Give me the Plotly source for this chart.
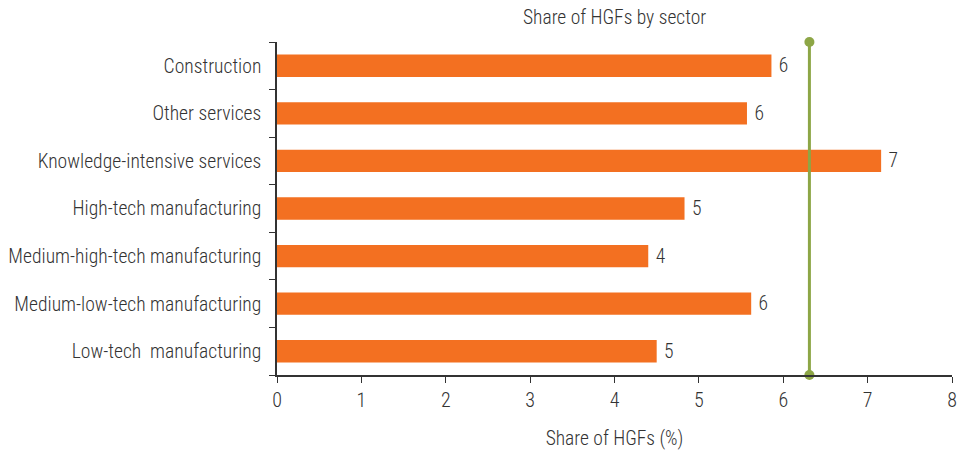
import plotly.graph_objects as go

categories = ["Construction", "Other services", "Knowledge-intensive services",
              "High-tech manufacturing", "Medium-high-tech manufacturing",
              "Medium-low-tech manufacturing", "Low-tech  manufacturing"]
values = [5.86, 5.57, 7.16, 4.83, 4.40, 5.62, 4.50]
labels = ["6", "6", "7", "5", "4", "6", "5"]
average = 6.31
x_ticks = [0, 1, 2, 3, 4, 5, 6, 7, 8]

FONT = "Roboto Condensed, Arial Narrow, sans-serif"
TXT = "#333333"

fig = go.Figure()
fig.add_trace(go.Bar(
    y=categories, x=values, orientation="h",
    marker=dict(color="#F37021", line=dict(width=0)),
    text=labels, textposition="outside", texttemplate="\u00a0%{text}",
    textfont=dict(size=21, color=TXT, family=FONT, weight=300),
    width=0.47, cliponaxis=False, showlegend=False,
))
fig.add_trace(go.Scatter(
    x=[average, average], y=[0, 1], yaxis="y2",
    mode="lines+markers",
    line=dict(color="#8DA646", width=3),
    marker=dict(color="#8DA646", size=10),
    cliponaxis=False, showlegend=False,
))

fig.update_layout(
    width=961, height=454,
    margin=dict(l=277, r=9, t=42, b=79),
    paper_bgcolor="white", plot_bgcolor="white",
    font=dict(family=FONT, color=TXT, size=19, weight=300),
    title=dict(text="Share of HGFs by sector", x=0.6395, xanchor="center",
               y=0.962, yanchor="middle",
               font=dict(size=19.5, color=TXT, family=FONT, weight=300)),
    xaxis=dict(range=[0, 8], tickvals=x_ticks, showgrid=False, zeroline=False,
               showline=True, linecolor="#333333", linewidth=1.5,
               ticks="outside", ticklen=6, tickcolor="#333333",
               tickfont=dict(size=20, color=TXT, weight=300), ticklabeloverflow="allow",
               automargin=False,
               title=dict(text="Share of HGFs (%)",
                          font=dict(size=19.5, color=TXT, weight=300), standoff=21)),
    yaxis=dict(categoryorder="array", categoryarray=categories[::-1],
               showgrid=False, zeroline=False, showline=True,
               linecolor="#333333", linewidth=1.5, automargin=False,
               ticks="outside", ticklen=6, tickcolor="#333333", tickson="boundaries",
               tickfont=dict(size=19.6, color=TXT, weight=300), ticklabelstandoff=10),
    yaxis2=dict(overlaying="y", range=[0, 1], visible=False),
    bargap=0.53,
)

fig.write_html("out.html", config={"displayModeBar": False},
               post_script="document.body.style.margin='0';")
